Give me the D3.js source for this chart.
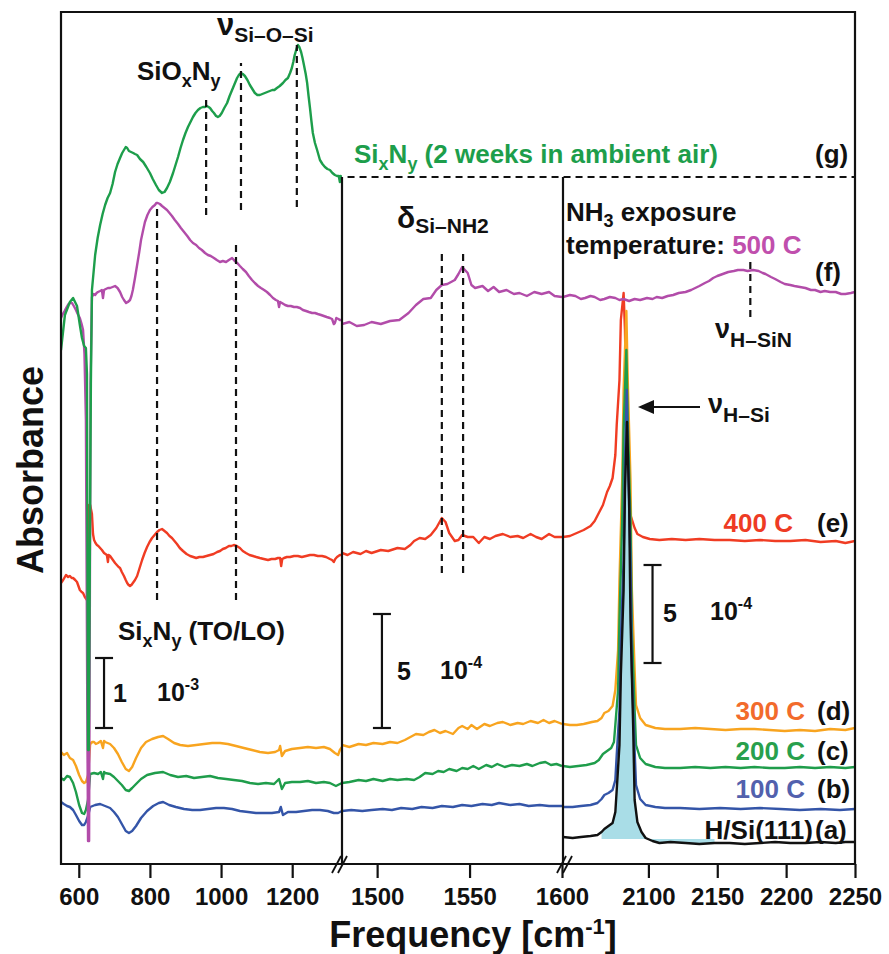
<!DOCTYPE html>
<html><head><meta charset="utf-8">
<script src="https://cdn.jsdelivr.net/npm/d3@7/dist/d3.min.js"></script>
<style>
html,body{margin:0;padding:0;background:#fff;}
svg text{font-family:"Liberation Sans",Arial,Helvetica,sans-serif;font-weight:bold;}
</style></head><body>
<svg id="chart" width="889" height="954"></svg>
<script>
// ---------- axis ticks (cm^-1), three broken segments ----------
const ticksP1 = [600, 800, 1000, 1200];
const ticksP2 = [1500, 1550, 1600];
const ticksP3 = [2100, 2150, 2200, 2250];

// ---------- spectra: [frequency cm^-1, offset absorbance (a.u.)] ----------
// (g) SixNy after 2 weeks in ambient air
const g_p1 = [[550,5.14],[561,5.49],[575,5.62],[584,5.66],[595,5.58],[603,5.39],[609,5.26],[615,5.18],[620,5.16],[623,4.9],[626,1.14],[628,1.14],[631,3.0],[634,4.8],[637,5.74],[646,6.09],[653,6.26],[660,6.39],[667,6.50],[674,6.59],[681,6.66],[688,6.71],[695,6.80],[702,6.92],[709,7.00],[716,7.06],[722,7.11],[727,7.14],[732,7.17],[736,7.16],[741,7.13],[747,7.12],[753,7.11],[758,7.10],[764,7.09],[772,7.05],[781,7.02],[790,6.97],[800,6.91],[808,6.85],[817,6.79],[825,6.74],[834,6.71],[841,6.72],[848,6.76],[856,6.82],[865,6.91],[872,6.99],[879,7.07],[886,7.16],[893,7.24],[900,7.31],[907,7.37],[914,7.42],[921,7.47],[928,7.51],[935,7.54],[942,7.56],[949,7.57],[955,7.57],[960,7.58],[965,7.57],[969,7.56],[975,7.53],[980,7.51],[986,7.48],[991,7.47],[996,7.48],[1002,7.51],[1009,7.56],[1017,7.61],[1024,7.68],[1031,7.74],[1038,7.80],[1045,7.86],[1050,7.89],[1056,7.91],[1061,7.90],[1067,7.88],[1074,7.84],[1081,7.79],[1088,7.75],[1095,7.71],[1102,7.69],[1109,7.69],[1116,7.70],[1123,7.71],[1130,7.72],[1137,7.73],[1144,7.74],[1150,7.74],[1157,7.76],[1165,7.78],[1174,7.81],[1181,7.84],[1188,7.86],[1194,7.91],[1199,7.96],[1203,8.02],[1207,8.09],[1212,8.15],[1216,8.19],[1220,8.17],[1225,8.12],[1229,8.06],[1233,7.99],[1238,7.90],[1242,7.81],[1246,7.68],[1250,7.56],[1254,7.43],[1258,7.31],[1264,7.21],[1270,7.14],[1278,7.04],[1285,7.00],[1292,6.97],[1299,6.95],[1306,6.94],[1313,6.91],[1320,6.89],[1326,6.88],[1331,6.88],[1334,6.82],[1336,6.88],[1340,6.87]];

// (f) NH3 exposure at 500 C
const f_p1 = [[550,5.46],[555,5.50],[560,5.53],[566,5.57],[571,5.60],[576,5.61],[581,5.61],[586,5.58],[592,5.54],[597,5.50],[603,5.46],[608,5.40],[612,5.34],[616,5.1],[620,4.44],[624,1.5],[626,0.23],[629,0.23],[631,2.5],[633,4.8],[637,5.67],[642,5.70],[646,5.69],[650,5.71],[654,5.72],[660,5.73],[665,5.74],[668,5.66],[671,5.74],[676,5.75],[682,5.76],[688,5.76],[695,5.77],[702,5.78],[709,5.76],[716,5.72],[722,5.67],[727,5.64],[733,5.61],[738,5.62],[744,5.64],[748,5.68],[752,5.74],[758,5.86],[764,5.99],[770,6.12],[775,6.24],[781,6.34],[786,6.42],[793,6.49],[800,6.54],[807,6.57],[814,6.59],[818,6.61],[822,6.61],[828,6.60],[834,6.58],[841,6.56],[848,6.54],[855,6.51],[862,6.48],[870,6.44],[879,6.40],[887,6.36],[896,6.32],[905,6.28],[913,6.24],[921,6.21],[930,6.19],[938,6.16],[946,6.14],[955,6.11],[963,6.09],[971,6.08],[980,6.06],[988,6.04],[997,6.02],[1005,6.03],[1014,6.02],[1022,6.04],[1031,6.06],[1036,6.04],[1042,6.02],[1048,6.00],[1053,5.98],[1061,5.95],[1070,5.92],[1078,5.88],[1087,5.84],[1095,5.81],[1104,5.78],[1112,5.76],[1121,5.74],[1129,5.72],[1138,5.69],[1146,5.66],[1154,5.64],[1160,5.63],[1163,5.57],[1166,5.62],[1171,5.61],[1180,5.59],[1188,5.58],[1196,5.58],[1205,5.57],[1213,5.57],[1222,5.56],[1230,5.54],[1239,5.53],[1247,5.52],[1256,5.51],[1264,5.51],[1272,5.50],[1281,5.49],[1289,5.48],[1297,5.47],[1306,5.46],[1312,5.45],[1317,5.40],[1320,5.41],[1324,5.46],[1330,5.45],[1334,5.44],[1340,5.44]];
const f_p2 = [[1481,5.40],[1485,5.42],[1489,5.38],[1493,5.39],[1497,5.42],[1502,5.40],[1507,5.43],[1512,5.44],[1517,5.51],[1521,5.59],[1525,5.65],[1529,5.66],[1532,5.74],[1535,5.79],[1538,5.80],[1542,5.84],[1544,5.90],[1546,5.97],[1549,5.91],[1551,5.79],[1553,5.76],[1557,5.78],[1560,5.73],[1563,5.77],[1566,5.72],[1570,5.74],[1574,5.70],[1577,5.71],[1581,5.68],[1585,5.72],[1589,5.70],[1593,5.72],[1596,5.68],[1600,5.67]];
const f_p3 = [[2038,5.67],[2043,5.69],[2047,5.68],[2051,5.65],[2054,5.66],[2058,5.68],[2061,5.67],[2065,5.64],[2068,5.65],[2072,5.67],[2076,5.66],[2079,5.64],[2082,5.65],[2086,5.63],[2090,5.65],[2094,5.64],[2099,5.66],[2103,5.65],[2106,5.67],[2110,5.66],[2114,5.68],[2118,5.69],[2122,5.71],[2127,5.72],[2131,5.74],[2134,5.76],[2137,5.78],[2141,5.81],[2144,5.83],[2147,5.86],[2150,5.88],[2154,5.90],[2158,5.92],[2162,5.93],[2165,5.94],[2169,5.94],[2172,5.93],[2176,5.94],[2180,5.93],[2183,5.91],[2185,5.90],[2189,5.87],[2192,5.85],[2196,5.82],[2199,5.80],[2203,5.79],[2206,5.78],[2210,5.77],[2214,5.76],[2218,5.74],[2221,5.74],[2225,5.72],[2228,5.73],[2232,5.72],[2236,5.72],[2240,5.70],[2243,5.70],[2247,5.71],[2250,5.72]];

// (e) 400 C
const e_p1 = [[550,2.81],[556,2.84],[564,2.89],[570,2.87],[575,2.88],[580,2.86],[584,2.86],[590,2.84],[595,2.82],[600,2.77],[603,2.74],[608,2.72],[612,2.71],[617,2.67],[623,2.64],[626,2.64],[629,3.59],[632,3.59],[637,3.50],[640,3.30],[643,3.24],[647,3.21],[651,3.19],[655,3.18],[660,3.16],[665,3.14],[671,3.11],[675,3.10],[679,3.09],[682,3.02],[684,3.09],[688,3.08],[692,3.06],[696,3.04],[702,3.01],[707,2.99],[712,2.97],[716,2.96],[721,2.92],[727,2.88],[732,2.84],[736,2.81],[740,2.79],[744,2.78],[748,2.79],[752,2.81],[758,2.84],[764,2.88],[771,2.96],[778,3.04],[785,3.11],[792,3.17],[799,3.22],[806,3.26],[813,3.29],[820,3.32],[827,3.34],[834,3.35],[841,3.33],[848,3.31],[855,3.28],[862,3.26],[869,3.23],[876,3.20],[884,3.16],[893,3.13],[903,3.10],[913,3.08],[922,3.07],[930,3.06],[939,3.07],[949,3.07],[959,3.08],[969,3.09],[979,3.10],[989,3.12],[997,3.13],[1005,3.15],[1013,3.16],[1022,3.18],[1029,3.18],[1036,3.19],[1044,3.18],[1053,3.16],[1061,3.13],[1070,3.11],[1080,3.09],[1090,3.08],[1099,3.07],[1109,3.06],[1120,3.05],[1132,3.04],[1142,3.05],[1152,3.05],[1160,3.06],[1166,3.06],[1169,2.98],[1172,3.05],[1177,3.06],[1185,3.07],[1194,3.07],[1205,3.08],[1216,3.08],[1227,3.07],[1239,3.08],[1250,3.09],[1261,3.09],[1272,3.08],[1284,3.08],[1295,3.07],[1306,3.05],[1312,3.04],[1317,3.02],[1321,3.05],[1326,3.07],[1334,3.09],[1340,3.09]];
const e_p2 = [[1481,3.11],[1484,3.09],[1487,3.12],[1491,3.10],[1494,3.13],[1497,3.11],[1502,3.14],[1506,3.13],[1511,3.16],[1515,3.15],[1518,3.19],[1520,3.23],[1523,3.26],[1526,3.25],[1529,3.29],[1532,3.36],[1535,3.46],[1537,3.42],[1539,3.31],[1542,3.23],[1544,3.24],[1546,3.29],[1549,3.27],[1552,3.27],[1555,3.21],[1558,3.27],[1561,3.25],[1564,3.28],[1568,3.30],[1572,3.27],[1576,3.28],[1579,3.26],[1583,3.30],[1586,3.27],[1589,3.25],[1593,3.30],[1596,3.27],[1600,3.27]];
const e_p3 = [[2038,3.27],[2043,3.28],[2048,3.31],[2053,3.34],[2058,3.38],[2061,3.43],[2064,3.51],[2067,3.59],[2070,3.72],[2072,3.78],[2074,3.86],[2076,4.09],[2077,4.39],[2079,4.84],[2080,5.44],[2082,5.71],[2083,5.34],[2084,4.54],[2086,3.84],[2087,3.49],[2090,3.36],[2092,3.30],[2096,3.27],[2101,3.25],[2108,3.24],[2117,3.25],[2127,3.24],[2137,3.25],[2148,3.24],[2159,3.24],[2170,3.23],[2181,3.24],[2192,3.23],[2203,3.23],[2214,3.24],[2225,3.22],[2236,3.23],[2243,3.21],[2250,3.23]];

// (d) 300 C
const d_p1 = [[550,1.12],[558,1.09],[567,1.11],[575,1.06],[584,1.04],[592,0.98],[601,0.89],[609,0.83],[615,0.81],[620,0.82],[626,0.89],[632,1.20],[638,1.22],[643,1.22],[648,1.20],[654,1.21],[662,1.23],[668,1.16],[671,1.23],[674,1.22],[681,1.21],[688,1.20],[699,1.16],[710,1.10],[721,1.02],[732,0.95],[741,0.93],[750,0.97],[761,1.06],[775,1.16],[789,1.22],[806,1.25],[823,1.27],[837,1.28],[851,1.25],[868,1.21],[885,1.19],[907,1.18],[930,1.19],[952,1.20],[975,1.21],[997,1.21],[1019,1.20],[1042,1.18],[1064,1.16],[1087,1.14],[1109,1.12],[1132,1.11],[1152,1.12],[1163,1.14],[1166,1.18],[1171,1.08],[1180,1.13],[1199,1.15],[1222,1.16],[1244,1.17],[1267,1.16],[1289,1.17],[1306,1.15],[1320,1.11],[1329,1.09],[1334,1.14],[1340,1.17]];
const d_p2 = [[1481,1.19],[1485,1.17],[1490,1.20],[1494,1.19],[1498,1.21],[1503,1.20],[1507,1.22],[1511,1.21],[1515,1.24],[1518,1.27],[1521,1.30],[1525,1.29],[1528,1.32],[1531,1.34],[1534,1.31],[1537,1.33],[1541,1.30],[1544,1.36],[1546,1.38],[1549,1.35],[1551,1.39],[1554,1.35],[1558,1.40],[1561,1.38],[1565,1.41],[1568,1.42],[1572,1.39],[1576,1.41],[1579,1.40],[1583,1.43],[1587,1.41],[1590,1.44],[1593,1.41],[1596,1.43],[1600,1.40]];
const d_p3 = [[2038,1.40],[2043,1.39],[2048,1.39],[2053,1.40],[2059,1.42],[2063,1.43],[2066,1.46],[2068,1.51],[2071,1.53],[2074,1.58],[2076,1.74],[2078,2.14],[2079,2.84],[2081,3.84],[2082,4.74],[2084,5.53],[2085,4.84],[2087,3.84],[2088,2.74],[2090,1.94],[2091,1.59],[2094,1.46],[2098,1.39],[2105,1.36],[2112,1.35],[2123,1.35],[2134,1.36],[2145,1.35],[2156,1.34],[2167,1.35],[2177,1.35],[2188,1.34],[2199,1.33],[2210,1.34],[2221,1.33],[2232,1.35],[2243,1.34],[2250,1.36]];

// (c) 200 C
const c_p1 = [[550,0.86],[558,0.84],[567,0.88],[575,0.87],[584,0.81],[592,0.72],[601,0.59],[609,0.51],[615,0.50],[620,0.54],[626,0.64],[632,0.90],[643,0.91],[654,0.90],[662,0.92],[668,0.85],[671,0.92],[674,0.91],[688,0.90],[699,0.87],[710,0.83],[721,0.79],[732,0.74],[741,0.73],[750,0.76],[761,0.80],[775,0.85],[792,0.89],[814,0.91],[837,0.92],[857,0.89],[879,0.87],[902,0.88],[924,0.86],[946,0.87],[969,0.88],[991,0.86],[1014,0.85],[1036,0.84],[1059,0.83],[1081,0.81],[1104,0.80],[1126,0.81],[1149,0.80],[1163,0.85],[1171,0.75],[1180,0.81],[1199,0.82],[1222,0.82],[1244,0.83],[1267,0.81],[1289,0.82],[1306,0.81],[1323,0.78],[1334,0.80],[1340,0.81]];
const c_p2 = [[1481,0.81],[1485,0.82],[1490,0.84],[1494,0.83],[1498,0.85],[1503,0.83],[1507,0.85],[1511,0.84],[1516,0.85],[1520,0.84],[1523,0.87],[1526,0.91],[1530,0.90],[1533,0.93],[1536,0.92],[1539,0.95],[1543,0.93],[1546,0.96],[1549,0.95],[1552,0.98],[1555,0.95],[1559,0.99],[1562,0.97],[1565,1.00],[1569,0.97],[1573,0.99],[1577,0.98],[1581,1.00],[1584,0.98],[1588,1.01],[1591,1.02],[1594,0.99],[1597,1.00],[1600,0.98]];
const c_p3 = [[2038,0.98],[2043,0.97],[2049,0.98],[2055,0.99],[2061,1.01],[2064,1.04],[2067,1.10],[2070,1.13],[2073,1.16],[2075,1.22],[2076,1.39],[2078,1.74],[2079,2.44],[2081,3.44],[2082,4.34],[2084,5.14],[2085,4.44],[2087,3.44],[2088,2.34],[2090,1.54],[2091,1.19],[2094,1.06],[2098,1.00],[2105,0.97],[2112,0.96],[2123,0.96],[2134,0.97],[2145,0.96],[2156,0.97],[2167,0.96],[2177,0.97],[2188,0.96],[2199,0.96],[2210,0.97],[2221,0.96],[2232,0.97],[2243,0.96],[2250,0.97]];

// (b) 100 C
const b_p1 = [[550,0.62],[558,0.60],[567,0.58],[575,0.57],[584,0.54],[592,0.49],[601,0.43],[609,0.39],[615,0.39],[620,0.42],[626,0.48],[632,0.57],[646,0.59],[660,0.60],[674,0.58],[688,0.56],[699,0.52],[710,0.47],[721,0.40],[732,0.33],[741,0.31],[750,0.33],[761,0.38],[775,0.46],[792,0.53],[809,0.58],[825,0.61],[837,0.62],[854,0.59],[873,0.57],[896,0.55],[919,0.54],[941,0.54],[963,0.55],[986,0.56],[1008,0.56],[1031,0.55],[1053,0.53],[1076,0.52],[1098,0.51],[1121,0.51],[1143,0.51],[1163,0.52],[1168,0.57],[1174,0.49],[1188,0.52],[1211,0.52],[1233,0.53],[1256,0.54],[1278,0.54],[1300,0.53],[1317,0.51],[1329,0.51],[1340,0.53]];
const b_p2 = [[1481,0.53],[1486,0.54],[1492,0.53],[1497,0.54],[1503,0.55],[1508,0.54],[1513,0.56],[1519,0.55],[1524,0.57],[1530,0.56],[1535,0.58],[1541,0.57],[1546,0.59],[1551,0.58],[1557,0.60],[1562,0.59],[1566,0.61],[1572,0.59],[1577,0.60],[1582,0.58],[1588,0.59],[1593,0.58],[1600,0.58]];
const b_p3 = [[2038,0.57],[2045,0.57],[2051,0.58],[2058,0.59],[2063,0.61],[2066,0.65],[2068,0.69],[2071,0.71],[2074,0.74],[2076,0.84],[2077,1.09],[2079,1.54],[2080,2.24],[2082,3.04],[2083,4.04],[2084.3,4.74],[2085,4.14],[2087,3.04],[2088,1.94],[2090,1.14],[2091,0.79],[2094,0.65],[2098,0.59],[2105,0.57],[2112,0.56],[2123,0.56],[2137,0.55],[2152,0.56],[2167,0.55],[2181,0.56],[2196,0.55],[2210,0.54],[2225,0.55],[2239,0.54],[2250,0.55]];

// (a) H/Si(111)
const a_p3 = [[2038,0.27],[2045,0.26],[2051,0.27],[2058,0.28],[2063,0.29],[2066,0.32],[2068,0.35],[2071,0.38],[2074,0.41],[2076,0.52],[2077,0.74],[2079,1.19],[2080,1.89],[2082,2.74],[2083,3.74],[2084.5,4.42],[2086,3.64],[2087,2.44],[2089,1.34],[2090,0.64],[2092,0.42],[2095,0.32],[2098,0.26],[2103,0.23],[2108,0.21],[2116,0.22],[2127,0.21],[2137,0.20],[2148,0.21],[2159,0.21],[2170,0.20],[2181,0.21],[2192,0.22],[2203,0.21],[2214,0.21],[2225,0.22],[2236,0.21],[2243,0.22],[2250,0.22]];
const aFillBase = 0.25;
const aFillRange = [2066, 2150];

// peak markers: [frequency, lower, upper]
const markersP1 = [[820,2.64,6.57],[1042,2.64,6.19],[958,6.49,7.69],[1056,6.54,8.01],[1213,6.57,8.19]];
const markersP2 = [[1535,2.91,6.15],[1546.5,2.91,6.15]];
const markersP3 = [[2174,5.47,6.07]];
const gReference = 6.87;

// scale bars: [frequency, lower, upper]
const barP1 = [671, 1.36, 2.06];
const barP2 = [1502.6, 1.36, 2.50];
const barP3 = [2103, 2.01, 2.99];

// ---------- colours ----------
const col = {a:"#111111", b:"#3455a8", c:"#1f9d4b", d:"#f8a41f", e:"#f03c23", f:"#b24ca9", g:"#1d9e4b"};

// ---------- layout ----------
const svg = d3.select("#chart");
const x1 = d3.scaleLinear().domain([550,1340]).range([61,342]);
const x2 = d3.scaleLinear().domain([1481,1600]).range([342,562]);
const x3 = d3.scaleLinear().domain([2038,2250]).range([563,855]);
const y = d3.scaleLinear().domain([0,8.52]).range([864,12]);
const xs = {1:x1, 2:x2, 3:x3};

const defs = svg.append("defs");
[[1,61,342],[2,342,562],[3,563,855]].forEach(([p,l,r]) => {
  defs.append("clipPath").attr("id","clip"+p).append("rect")
    .attr("x",l).attr("y",10).attr("width",r-l).attr("height",855);
});

function trace(panel, data, color, w) {
  const xsc = xs[panel];
  svg.append("path").datum(data)
    .attr("clip-path","url(#clip"+panel+")")
    .attr("fill","none").attr("stroke",color).attr("stroke-width",w||2.4)
    .attr("stroke-linejoin","round")
    .attr("d", d3.line().x(d=>xsc(d[0])).y(d=>y(d[1])));
}

// shaded H-Si band under spectrum (a)
const fillData = a_p3.filter(d => d[0] >= aFillRange[0] && d[0] <= aFillRange[1]);
svg.append("path").datum(fillData)
  .attr("clip-path","url(#clip3)")
  .attr("fill","#a9dde7").attr("stroke","none")
  .attr("d", d3.area().x(d=>x3(d[0])).y0(y(aFillBase)).y1(d=>y(d[1])));

// spectra, back to front
trace(1,e_p1,col.e); trace(2,e_p2,col.e); trace(3,e_p3,col.e);
trace(1,d_p1,col.d); trace(2,d_p2,col.d); trace(3,d_p3,col.d);
trace(1,c_p1,col.c); trace(2,c_p2,col.c); trace(3,c_p3,col.c);
trace(1,b_p1,col.b); trace(2,b_p2,col.b); trace(3,b_p3,col.b);
trace(3,a_p3,col.a);
trace(1,f_p1,col.f); trace(2,f_p2,col.f); trace(3,f_p3,col.f);
trace(1,g_p1,col.g);

// dashed peak markers
function marker(panel, m) {
  svg.append("line").attr("x1",xs[panel](m[0])).attr("x2",xs[panel](m[0]))
    .attr("y1",y(m[1])).attr("y2",y(m[2]))
    .attr("stroke","#111").attr("stroke-width",2.2).attr("stroke-dasharray","7,5");
}
markersP1.forEach(m=>marker(1,m));
markersP2.forEach(m=>marker(2,m));
markersP3.forEach(m=>marker(3,m));
svg.append("line").attr("x1",x2(1484)).attr("x2",x3(2250))
  .attr("y1",y(gReference)).attr("y2",y(gReference))
  .attr("stroke","#111").attr("stroke-width",2).attr("stroke-dasharray","7,5");

// frame and panel separators
const frame = svg.append("g").attr("stroke","#111").attr("stroke-width",2.2).attr("fill","none");
frame.append("path").attr("d",`M${x1(550)},${y(0)}V${y(8.52)}H${x3(2250)}V${y(0)}Z`);
[x1(1340), x3(2038)].forEach(xv => {
  frame.append("line").attr("x1",xv).attr("x2",xv).attr("y1",y(gReference)).attr("y2",y(0));
});
// axis break marks
[x1(1340)-2, x3(2038)+2].forEach(xv => {
  [-3,3].forEach(o => frame.append("line")
    .attr("x1",xv+o-5).attr("y1",y(0)+9).attr("x2",xv+o+4).attr("y2",y(0)-8)
    .attr("stroke-width",1.8));
});

// bottom axes
function axis(sc, ticks) {
  const g = svg.append("g").attr("transform",`translate(0,${y(0)})`)
    .call(d3.axisBottom(sc).tickValues(ticks).tickSize(14).tickSizeOuter(0).tickPadding(10).tickFormat(d3.format("d")));
  g.select(".domain").remove();
  g.selectAll(".tick line").attr("stroke","#111").attr("stroke-width",2.2);
  g.selectAll(".tick text").attr("fill","#111").attr("font-size",24)
    .attr("font-family","Liberation Sans, Arial, sans-serif").attr("font-weight","bold");
}
axis(x1, ticksP1); axis(x2, ticksP2); axis(x3, ticksP3);

// rich text helper: parts = [text, baselineOffset, fontSize, fill]
function rich(x, yy, parts, anchor) {
  const t = svg.append("text").attr("x",x).attr("y",yy).attr("fill","#111");
  if (anchor) t.attr("text-anchor",anchor);
  let prev = 0;
  parts.forEach(p => {
    const off = p[1]||0;
    const ts = t.append("tspan").attr("dy", off - prev).attr("font-size", p[2]||26).text(p[0]);
    if (p[3]) ts.attr("fill", p[3]);
    prev = off;
  });
  return t;
}

// axis titles
svg.append("text").attr("x",473).attr("y",947).attr("text-anchor","middle")
  .attr("font-size",36).attr("fill","#111")
  .call(t => { t.append("tspan").text("Frequency [cm");
               t.append("tspan").attr("dy",-13).attr("font-size",22).text("-1");
               t.append("tspan").attr("dy",13).text("]"); });
svg.append("text").attr("transform","translate(43,470) rotate(-90)")
  .attr("text-anchor","middle").attr("font-size",36).attr("fill","#111").text("Absorbance");

// annotations
rich(137, 80, [["Si"],["O"],["x",7,18],["N",0],["y",7,18]]);
rich(217, 35, [["ν",0,31],["Si–O–Si",7,21]]);
rich(354, 163, [["Si",0,26,col.g],["x",7,18,col.g],["N",0,26,col.g],["y",7,18,col.g],[" (2 weeks in ambient air)",0,26,col.g]]);
rich(815, 163, [["(g)"]]);
rich(397, 228, [["δ",0,30],["Si–NH2",5,21]]);
rich(566, 221, [["NH"],["3",6,18],[" exposure",0]]);
rich(566, 254, [["temperature: "],["500 C",0,26,"#c04fad"]]);
rich(815, 281, [["(f)"]]);
rich(715, 338, [["ν",0,27],["H–SiN",9,21]]);
rich(708, 413, [["ν",0,27],["H–Si",9,21]]);
// arrow toward the H-Si stretch
svg.append("line").attr("x1",700).attr("x2",650).attr("y1",407).attr("y2",407)
  .attr("stroke","#111").attr("stroke-width",2.2);
svg.append("path").attr("d","M638,407L654,400L654,414Z").attr("fill","#111");

rich(793, 532, [["400 C",0,26,"#ee3b24"]], "end");
rich(817, 532, [["(e)"]]);
rich(805, 720, [["300 C",0,26,"#f26b2c"]], "end");
rich(817, 720, [["(d)"]]);
rich(805, 760, [["200 C",0,26,"#28a04d"]], "end");
rich(817, 760, [["(c)"]]);
rich(805, 798, [["100 C",0,26,"#5261ad"]], "end");
rich(817, 798, [["(b)"]]);
rich(813, 839, [["H/Si(111)"]], "end");
rich(815, 839, [["(a)"]]);

rich(118, 640, [["Si"],["x",7,18],["N",0],["y",7,18],[" (TO/LO)",0]]);

// scale bars
function scaleBar(panel, b) {
  const xv = xs[panel](b[0]);
  const g = svg.append("g").attr("stroke","#111").attr("stroke-width",2.2);
  g.append("line").attr("x1",xv).attr("x2",xv).attr("y1",y(b[1])).attr("y2",y(b[2]));
  [b[1],b[2]].forEach(v => g.append("line").attr("x1",xv-9).attr("x2",xv+9).attr("y1",y(v)).attr("y2",y(v)));
}
scaleBar(1, barP1); scaleBar(2, barP2); scaleBar(3, barP3);
rich(113, 702, [["1",0,25]]);
rich(157, 701, [["10",0,25],["-3",-11,16]]);
rich(397, 680, [["5",0,25]]);
rich(440, 679, [["10",0,25],["-4",-11,16]]);
rich(663, 622, [["5",0,25]]);
rich(710, 620, [["10",0,25],["-4",-11,16]]);
</script>
</body></html>
